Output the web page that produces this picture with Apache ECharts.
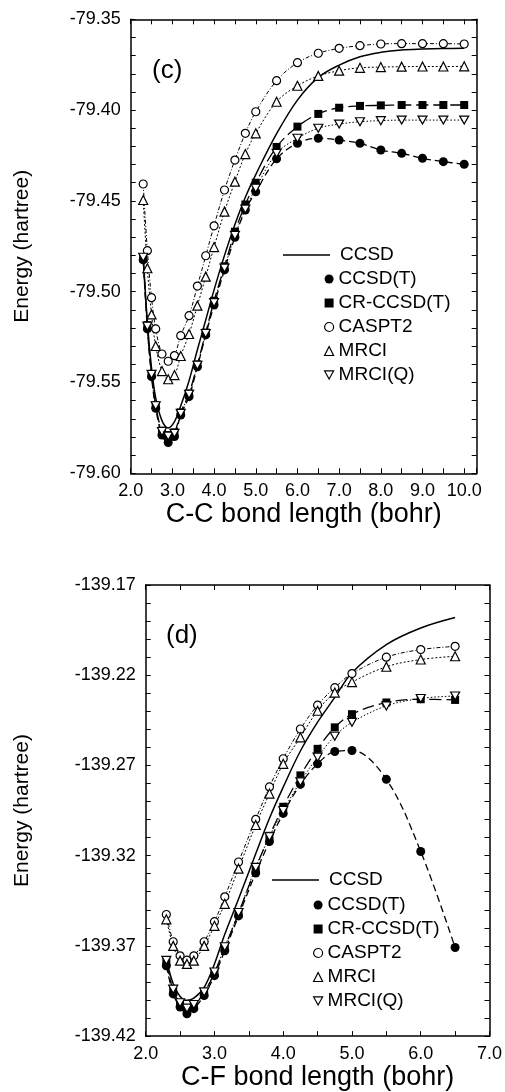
<!DOCTYPE html>
<html><head><meta charset="utf-8">
<script src="https://cdn.jsdelivr.net/npm/echarts@6/dist/echarts.min.js"></script>
<style>html,body{margin:0;padding:0;background:#fff}#c{width:505px;height:1092px}</style>
</head><body><div id="c"></div>
<script>
// ---------- Panel (c): C-C bond ----------
const ccX = [2.3,2.4,2.5,2.6,2.75,2.9,3.05,3.2,3.4,3.6,3.8,4.0,4.25,4.5,4.75,5.0,5.5,6.0,6.5,7.0,7.5,8.0,8.5,9.0,9.5,10.0];
const ccCCSD = [-79.480,-79.517,-79.542,-79.5585,-79.571,-79.575,-79.5715,-79.563,-79.549,-79.532,-79.5156,-79.499,-79.480,-79.463,-79.448,-79.4355,-79.413,-79.3945,-79.382,-79.3752,-79.3706,-79.3682,-79.3669,-79.3664,-79.3661,-79.366];
const ccCCSDT = [-79.4825,-79.5205,-79.5468,-79.5642,-79.5789,-79.5831,-79.5798,-79.5679,-79.5578,-79.5413,-79.5238,-79.5073,-79.488,-79.470,-79.455,-79.445,-79.4268,-79.4183,-79.4155,-79.4165,-79.4183,-79.422,-79.4238,-79.4265,-79.4284,-79.4298];
const ccCR = [-79.4816,-79.5184,-79.5455,-79.5625,-79.5765,-79.579,-79.5775,-79.5665,-79.556,-79.540,-79.5225,-79.505,-79.486,-79.467,-79.452,-79.440,-79.4203,-79.4091,-79.4021,-79.3987,-79.3977,-79.3974,-79.3972,-79.3972,-79.3972,-79.3972];
const ccCASPT2 = [-79.4407,-79.4774,-79.5033,-79.5205,-79.5343,-79.5383,-79.5352,-79.5242,-79.5132,-79.4969,-79.4802,-79.4637,-79.444,-79.4275,-79.4128,-79.4009,-79.3838,-79.3739,-79.3687,-79.366,-79.3645,-79.3636,-79.3634,-79.3634,-79.3634,-79.3636];
const ccMRCI = [-79.4495,-79.4871,-79.5125,-79.5299,-79.5437,-79.5482,-79.5459,-79.5354,-79.5233,-79.5077,-79.4917,-79.4754,-79.4559,-79.4394,-79.4242,-79.4128,-79.3954,-79.3866,-79.3812,-79.3783,-79.3767,-79.3763,-79.3761,-79.376,-79.376,-79.3759];
const ccMRCIQ = [-79.4810,-79.519,-79.5455,-79.5628,-79.577,-79.5795,-79.578,-79.567,-79.5565,-79.5405,-79.523,-79.506,-79.487,-79.469,-79.4545,-79.443,-79.4238,-79.4155,-79.410,-79.4077,-79.4064,-79.4058,-79.4055,-79.4055,-79.4055,-79.4055];

// ---------- Panel (d): C-F bond ----------
const cfX = [2.3,2.4,2.5,2.6,2.7,2.85,3.0,3.15,3.35,3.6,3.8,4.0,4.25,4.5,4.75,5.0,5.5,6.0,6.5];
const cfCCSD = [-139.3773,-139.391,-139.398,-139.4002,-139.399,-139.393,-139.380,-139.3636,-139.344,-139.319,-139.2993,-139.282,-139.262,-139.246,-139.2323,-139.2186,-139.203,-139.1938,-139.188];
const cfCCSDT = [-139.381,-139.3966,-139.4039,-139.4076,-139.4048,-139.3975,-139.3865,-139.3727,-139.3534,-139.3296,-139.3122,-139.2966,-139.2805,-139.2691,-139.2623,-139.2617,-139.2777,-139.3177,-139.3709];
const cfCR = [-139.379,-139.395,-139.402,-139.405,-139.403,-139.396,-139.385,-139.371,-139.352,-139.327,-139.309,-139.2929,-139.2755,-139.2608,-139.2489,-139.2416,-139.2351,-139.2333,-139.2337];
const cfCASPT2 = [-139.3526,-139.3677,-139.3755,-139.3779,-139.3755,-139.3677,-139.3566,-139.3428,-139.3235,-139.2999,-139.2819,-139.2663,-139.2498,-139.2366,-139.2269,-139.2191,-139.210,-139.2058,-139.204];
const cfMRCI = [-139.3553,-139.370,-139.3782,-139.380,-139.3782,-139.370,-139.3589,-139.3467,-139.3272,-139.303,-139.2856,-139.2691,-139.2544,-139.2397,-139.2296,-139.2238,-139.2153,-139.2113,-139.2095];
const cfMRCIQ = [-139.378,-139.394,-139.4015,-139.4045,-139.4025,-139.3955,-139.3845,-139.3705,-139.3515,-139.3265,-139.3095,-139.295,-139.2791,-139.2654,-139.2538,-139.2461,-139.237,-139.2329,-139.2315];

const methodNames = ['CCSD','CCSD(T)','CR-CCSD(T)','CASPT2','MRCI','MRCI(Q)'];
const panelLabels = ['(c)','(d)'];
const xTitles = ['C-C bond length (bohr)','C-F bond length (bohr)'];
const yTitle = 'Energy (hartree)';

const FONT = '"Liberation Sans", Arial, Helvetica, sans-serif';
const INV_TRI = 'path://M0,0L10,0L5,9Z';

const styles = {
  'CCSD':      {symbol:'none', size:0, fill:'#000', dash:'solid', w:1.5},
  'CCSD(T)':   {symbol:'circle', size:9, fill:'#000', dash:[7,4], w:1.3},
  'CR-CCSD(T)':{symbol:'rect', size:8, fill:'#000', dash:[12,5], w:1.3},
  'CASPT2':    {symbol:'circle', size:8, fill:'#fff', dash:[4,2,1,2], w:1},
  'MRCI':      {symbol:'triangle', size:9, fill:'#fff', dash:[2,2], w:1},
  'MRCI(Q)':   {symbol:INV_TRI, size:[9,8], fill:'#fff', dash:[1.5,2], w:1}
};

function zip(xs, ys){ return xs.map((x,i)=>[x, ys[i]]); }

function mkSeries(name, xs, ys, idx){
  const s = styles[name];
  return {
    name, type:'line', xAxisIndex: idx*2, yAxisIndex: idx*2,
    data: zip(xs, ys), smooth: 0.35,
    symbol: s.symbol, symbolSize: s.size, showSymbol: s.symbol !== 'none',
    itemStyle: {color: s.fill, borderColor:'#000', borderWidth: s.fill === '#fff' ? 1.2 : 0},
    lineStyle: {color:'#000', width: s.w, type: s.dash},
    emphasis: {disabled:true}, animation:false, z: 2
  };
}

const ccSets = [ccCCSD, ccCCSDT, ccCR, ccCASPT2, ccMRCI, ccMRCIQ];
const cfSets = [cfCCSD, cfCCSDT, cfCR, cfCASPT2, cfMRCI, cfMRCIQ];
const series = [];
methodNames.forEach((n,i)=>series.push(mkSeries(n, ccX, ccSets[i], 0)));
methodNames.forEach((n,i)=>series.push(mkSeries(n, cfX, cfSets[i], 1)));

const lblStyle = {color:'#000', fontSize:18, fontFamily:FONT};
function xAx(gi, min, max, top, name){
  const base = {type:'value', gridIndex:gi, min, max, interval:0.5,
    splitLine:{show:false},
    axisLine:{show:true, onZero:false, lineStyle:{color:'#000', width:1.5}},
    axisTick:{show:true, inside:true, length:5, lineStyle:{color:'#000', width:1}}};
  if (top) return Object.assign(base, {position:'top', axisLabel:{show:false}});
  return Object.assign(base, {position:'bottom', name, nameLocation:'middle', nameGap:27,
    nameTextStyle:{color:'#000', fontSize:27, fontFamily:FONT},
    axisLabel:Object.assign({margin:9, formatter:v=>Math.abs(v-Math.round(v))<1e-6 ? v.toFixed(1) : ''}, lblStyle)});
}
function yAx(gi, min, max, right, gap){
  const base = {type:'value', gridIndex:gi, min, max, interval:0.01,
    splitLine:{show:false}, scale:true,
    axisLine:{show:true, onZero:false, lineStyle:{color:'#000', width:1.5}},
    axisTick:{show:true, inside:true, length:5, lineStyle:{color:'#000', width:1}}};
  if (right) return Object.assign(base, {position:'right', axisLabel:{show:false}});
  const base100 = Math.round(min*100);
  return Object.assign(base, {position:'left', name:yTitle, nameLocation:'middle', nameGap:gap, nameRotate:90,
    nameTextStyle:{color:'#000', fontSize:21, fontFamily:FONT},
    axisLabel:Object.assign({margin:10, formatter:v=>{const k=Math.round(v*100)-base100; return (k%5===0)? v.toFixed(2):'';}}, lblStyle)});
}

const legTxt = {color:'#000', fontSize:19, fontFamily:FONT, lineHeight:20};
function legendItems(){
  return methodNames.slice(1).map(n=>{
    const s = styles[n];
    return {name:n, icon: s.symbol, itemStyle:{color:s.fill, borderColor:'#000', borderWidth: s.fill==='#fff'?1.2:0}};
  });
}
function lineLegend(left, top){
  return {data:[{name:methodNames[0], icon:'rect', itemStyle:{color:'#000', borderWidth:0}}],
    left, top, itemWidth:47, itemHeight:1.5, symbolKeepAspect:false, selectedMode:false, padding:0,
    textStyle:Object.assign({padding:[0,0,0,5]}, legTxt)};
}

const option = {
  animation:false,
  backgroundColor:'#fff',
  title: [
    {text:panelLabels[0], left:152, top:58, padding:0, textStyle:{fontSize:26, fontWeight:'normal', color:'#000', fontFamily:FONT}},
    {text:panelLabels[1], left:166, top:623, padding:0, textStyle:{fontSize:26, fontWeight:'normal', color:'#000', fontFamily:FONT}}
  ],
  grid: [
    {left:130.7, top:19.3, width:346, height:454},
    {left:145.7, top:585, width:346.6, height:454.3}
  ],
  xAxis: [ xAx(0,2,10.3,false,xTitles[0]), xAx(0,2,10.3,true), xAx(1,2,7,false,xTitles[1]), xAx(1,2,7,true) ],
  yAxis: [ yAx(0,-79.60,-79.35,false,98), yAx(0,-79.60,-79.35,true), yAx(1,-139.42,-139.17,false,113), yAx(1,-139.42,-139.17,true) ],
  legend: [
    lineLegend(283, 245),
    {data:legendItems(), orient:'vertical', left:324, top:269, itemWidth:9, itemHeight:9, itemGap:4, selectedMode:false, padding:0,
     textStyle:legTxt},
    lineLegend(272, 870),
    {data:legendItems(), orient:'vertical', left:313, top:895, itemWidth:9, itemHeight:9, itemGap:4, selectedMode:false, padding:0,
     textStyle:legTxt}
  ],
  series
};
const chart = echarts.init(document.getElementById('c'), null, {renderer:'canvas'});
chart.setOption(option);
</script>
</body></html>
